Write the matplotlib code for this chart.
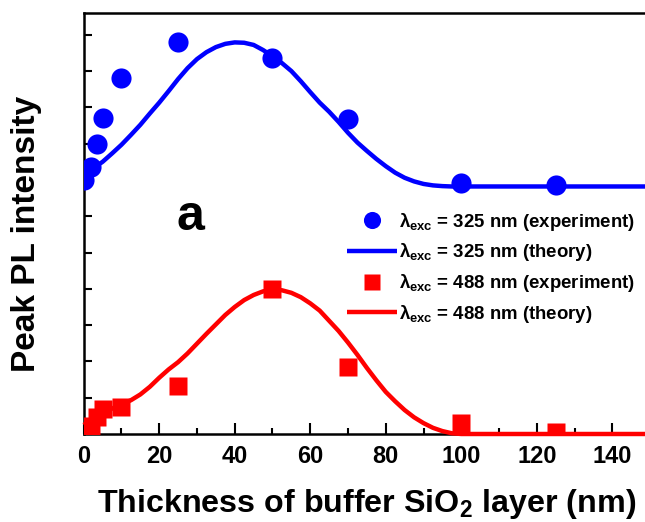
import matplotlib
matplotlib.use("Agg")
import matplotlib.pyplot as plt
from matplotlib.ticker import MultipleLocator, NullFormatter

plt.rcParams["font.family"] = ["Liberation Sans", "DejaVu Sans"]
plt.rcParams["font.weight"] = "bold"
plt.rcParams["mathtext.fontset"] = "custom"
plt.rcParams["mathtext.rm"] = "Liberation Sans:bold"
plt.rcParams["mathtext.it"] = "Liberation Sans:bold"
plt.rcParams["mathtext.bf"] = "Liberation Sans:bold"

# measured PL peak intensity vs buffer SiO2 thickness (nm), arbitrary units
thick_exp = [0, 2, 3.5, 5, 10, 25, 50, 70, 100, 125]
pl_325_exp = [7.0, 7.35, 8.0, 8.7, 9.82, 10.8, 10.37, 8.68, 6.92, 6.87]
pl_488_exp = [0.1, 0.23, 0.48, 0.68, 0.74, 1.32, 4.0, 1.84, 0.31, 0.05]

# calculated curves
thick_th = [0, 2.5, 5, 7.5, 10, 12.5, 15, 17.5, 20, 22.5, 25, 27.5, 30, 32.5,
            35, 37.5, 40, 42.5, 45, 47.5, 50, 52.5, 55, 57.5, 60, 62.5, 65,
            67.5, 70, 72.5, 75, 77.5, 80, 82.5, 85, 87.5, 90, 92.5, 95, 97.5,
            100, 150]
pl_325_th = [7.15, 7.32, 7.5, 7.73, 7.97, 8.24, 8.52, 8.83, 9.13, 9.45, 9.78,
             10.08, 10.33, 10.52, 10.66, 10.75, 10.79, 10.78, 10.72, 10.58,
             10.41, 10.22, 10.0, 9.72, 9.42, 9.13, 8.88, 8.6, 8.3, 8.03, 7.8,
             7.58, 7.38, 7.2, 7.06, 6.96, 6.89, 6.85, 6.83, 6.82, 6.82, 6.82]
pl_488_th = [0.25, 0.42, 0.57, 0.7, 0.82, 0.93, 1.09, 1.3, 1.55, 1.78, 1.98,
             2.22, 2.49, 2.76, 3.02, 3.28, 3.5, 3.69, 3.83, 3.93, 3.98, 3.96,
             3.89, 3.77, 3.6, 3.4, 3.12, 2.84, 2.52, 2.18, 1.82, 1.48, 1.16,
             0.9, 0.66, 0.46, 0.3, 0.17, 0.08, 0.02, 0.0, 0.0]

lab_325_exp = r"$\lambda_{exc}$ = 325 nm (experiment)"
lab_325_th = r"$\lambda_{exc}$ = 325 nm (theory)"
lab_488_exp = r"$\lambda_{exc}$ = 488 nm (experiment)"
lab_488_th = r"$\lambda_{exc}$ = 488 nm (theory)"

fig = plt.figure(figsize=(6.45, 5.22), dpi=100)
ax = fig.add_axes([0.1298, 0.1686, 0.878, 0.8065])

ax.plot(thick_exp, pl_325_exp, "o", color="blue", ms=14.5, mec="none",
        zorder=4, label=lab_325_exp)
ax.plot(thick_th, pl_325_th, "-", color="blue", lw=3.2, zorder=3,
        solid_capstyle="butt", label=lab_325_th)
ax.plot(thick_exp, pl_488_exp, "s", color="red", ms=13, mec="none",
        zorder=4, label=lab_488_exp)
ax.plot(thick_th, pl_488_th, "-", color="red", lw=3.2, zorder=5,
        solid_capstyle="butt", clip_on=False, label=lab_488_th)

ax.set_xlim(0, 150)
ax.set_ylim(0, 11.6)

ax.xaxis.set_major_locator(MultipleLocator(20))
ax.xaxis.set_minor_locator(MultipleLocator(10))
ax.yaxis.set_major_locator(MultipleLocator(1))
ax.yaxis.set_major_formatter(NullFormatter())
ax.tick_params(axis="x", which="major", direction="in", length=8, width=1.5,
               pad=8, labelsize=17)
ax.tick_params(axis="x", which="minor", direction="in", length=4, width=1.5)
ax.tick_params(axis="y", which="major", direction="in", length=6, width=1.5)
for lbl in ax.get_xticklabels():
    lbl.set_fontweight("bold")
for sp in ax.spines.values():
    sp.set_linewidth(1.8)

ax.set_xlabel(r"Thickness of buffer SiO$_2$ layer (nm)", fontsize=23.2,
              fontweight="bold")
ax.xaxis.set_label_coords(0.5, -0.1846)
ax.xaxis.label.set_va("baseline")
ax.set_ylabel("Peak PL intensity", fontsize=24, fontweight="bold")
ax.yaxis.set_label_coords(-0.0728, 0.476)

ax.text(28.3, 5.62, "a", fontsize=36, fontweight="bold", ha="center",
        va="baseline")

ax.legend(loc="upper left", bbox_to_anchor=(0.4644, 0.5305), frameon=False,
          fontsize=13.4, handlelength=2.7, handletextpad=0.1,
          labelspacing=0.47, borderpad=0, borderaxespad=0, markerscale=0.85,
          numpoints=1)

fig.savefig("out.png", dpi=100)
